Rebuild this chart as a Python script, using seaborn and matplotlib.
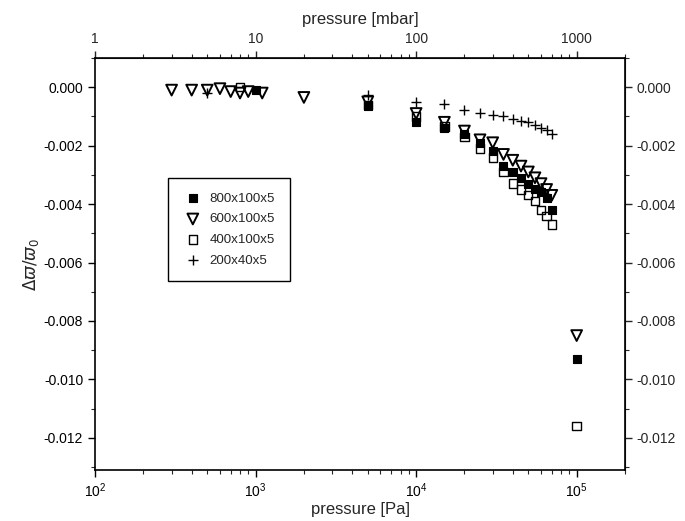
import matplotlib
matplotlib.use("Agg")
import matplotlib.pyplot as plt
import matplotlib.ticker as mticker
import numpy as np
import pandas as pd
import seaborn as sns

# ---- data (pressure in Pa, relative frequency shift) ----
p_800 = [1000, 5000, 10000, 15000, 20000, 25000, 30000, 35000, 40000, 45000,
         50000, 55000, 60000, 65000, 70000, 100000]
d_800 = [-0.0001, -0.00065, -0.0012, -0.0014, -0.0016, -0.0019, -0.0022, -0.0027,
         -0.0029, -0.0031, -0.0033, -0.0035, -0.0036, -0.0038, -0.0042, -0.0093]

p_600 = [300, 400, 500, 600, 700, 800, 900, 1100, 2000, 5000, 10000, 15000, 20000,
         25000, 30000, 35000, 40000, 45000, 50000, 55000, 60000, 65000, 70000, 100000]
d_600 = [-0.0001, -0.0001, -0.0001, -0.00005, -0.00015, -0.0002, -0.00015, -0.0002,
         -0.00035, -0.0005, -0.0009, -0.0012, -0.0015, -0.0018, -0.0019, -0.0023,
         -0.0025, -0.0027, -0.0029, -0.0031, -0.0033, -0.0035, -0.0037, -0.0085]

p_400 = [800, 5000, 10000, 15000, 20000, 25000, 30000, 35000, 40000, 45000,
         50000, 55000, 60000, 65000, 70000, 100000]
d_400 = [0.0, -0.0006, -0.001, -0.00135, -0.0017, -0.0021, -0.0024, -0.0029,
         -0.0033, -0.0035, -0.0037, -0.0039, -0.0042, -0.0044, -0.0047, -0.0116]

p_200 = [500, 5000, 10000, 15000, 20000, 25000, 30000, 35000, 40000, 45000,
         50000, 55000, 60000, 65000, 70000]
d_200 = [-0.0002, -0.00027, -0.0005, -0.00058, -0.00078, -0.00088, -0.00095,
         -0.001, -0.0011, -0.00115, -0.0012, -0.0013, -0.0014, -0.00145, -0.0016]

labels = ["800x100x5", "600x100x5", "400x100x5", "200x40x5"]
top_ticks = [1, 10, 100, 1000]

sns.set_style("ticks")
plt.rcParams["font.family"] = ["Liberation Sans", "DejaVu Sans"]
plt.rcParams["mathtext.fontset"] = "dejavusans"

fig = plt.figure(figsize=(6.85, 5.21), dpi=100)
ax = fig.add_axes([0.1387, 0.0979, 0.7737, 0.7908])

df800 = pd.DataFrame({"p": p_800, "d": d_800})
df600 = pd.DataFrame({"p": p_600, "d": d_600})
df400 = pd.DataFrame({"p": p_400, "d": d_400})
df200 = pd.DataFrame({"p": p_200, "d": d_200})

sns.scatterplot(data=df800, x="p", y="d", ax=ax, marker="s", s=34, color="black",
                edgecolor="black", linewidth=0.8, label=labels[0], zorder=3)
sns.scatterplot(data=df600, x="p", y="d", ax=ax, marker="v", s=60, color="black",
                facecolor="none", edgecolor="black", linewidth=1.4, label=labels[1], zorder=4)
sns.scatterplot(data=df400, x="p", y="d", ax=ax, marker="s", s=36, color="black",
                facecolor="none", edgecolor="black", linewidth=1.0, label=labels[2], zorder=5)
sns.scatterplot(data=df200, x="p", y="d", ax=ax, marker="+", s=55, color="black",
                linewidth=1.0, label=labels[3], zorder=6)

ax.set_xscale("log")
ax.set_xlim(100, 2e5)
ax.set_ylim(-0.0131, 0.001)

ax.yaxis.set_major_locator(mticker.MultipleLocator(0.002))
ax.yaxis.set_minor_locator(mticker.MultipleLocator(0.001))
ax.yaxis.set_major_formatter(mticker.FormatStrFormatter("%.3f"))
ax.xaxis.set_minor_locator(mticker.LogLocator(base=10, subs=np.arange(2, 10)))
ax.xaxis.set_minor_formatter(mticker.NullFormatter())

ax.set_xlabel("pressure [Pa]", fontsize=12, labelpad=1)
ax.set_ylabel(r"$\Delta\varpi/\varpi_0$", fontsize=12, labelpad=2)

for sp in ax.spines.values():
    sp.set_linewidth(1.2)
    sp.set_color("black")
    sp.set_visible(True)

ax.tick_params(which="major", direction="out", length=5, width=1.0, labelsize=10, colors="black")
ax.tick_params(which="minor", direction="out", length=3, width=0.8)

# top axis in mbar
top = ax.secondary_xaxis("top", functions=(lambda x: x / 100.0, lambda x: x * 100.0))
top.set_xscale("log")
top.xaxis.set_major_locator(mticker.FixedLocator(top_ticks))
top.xaxis.set_minor_locator(mticker.LogLocator(base=10, subs=np.arange(2, 10)))
top.xaxis.set_major_formatter(mticker.FuncFormatter(lambda v, pos: f"{v:g}"))
top.xaxis.set_minor_formatter(mticker.NullFormatter())
top.set_xlabel("pressure [mbar]", fontsize=12, labelpad=6)
top.tick_params(which="major", direction="out", length=5, width=1.0, labelsize=10)
top.tick_params(which="minor", direction="out", length=3, width=0.8)

# right axis
right = ax.secondary_yaxis("right")
right.yaxis.set_major_locator(mticker.MultipleLocator(0.002))
right.yaxis.set_minor_locator(mticker.MultipleLocator(0.001))
right.yaxis.set_major_formatter(mticker.FormatStrFormatter("%.3f"))
right.tick_params(which="major", direction="out", length=5, width=1.0, labelsize=10)
right.tick_params(which="minor", direction="out", length=3, width=0.8)

leg = ax.legend(loc="upper left", bbox_to_anchor=(0.138, 0.709), fontsize=9.6,
                frameon=True, fancybox=False, framealpha=1, edgecolor="black",
                borderpad=1.1, labelspacing=0.62, handletextpad=0.5, handlelength=1.5,
                borderaxespad=0)
leg.get_frame().set_linewidth(1.0)

fig.savefig("out.png", dpi=100)
